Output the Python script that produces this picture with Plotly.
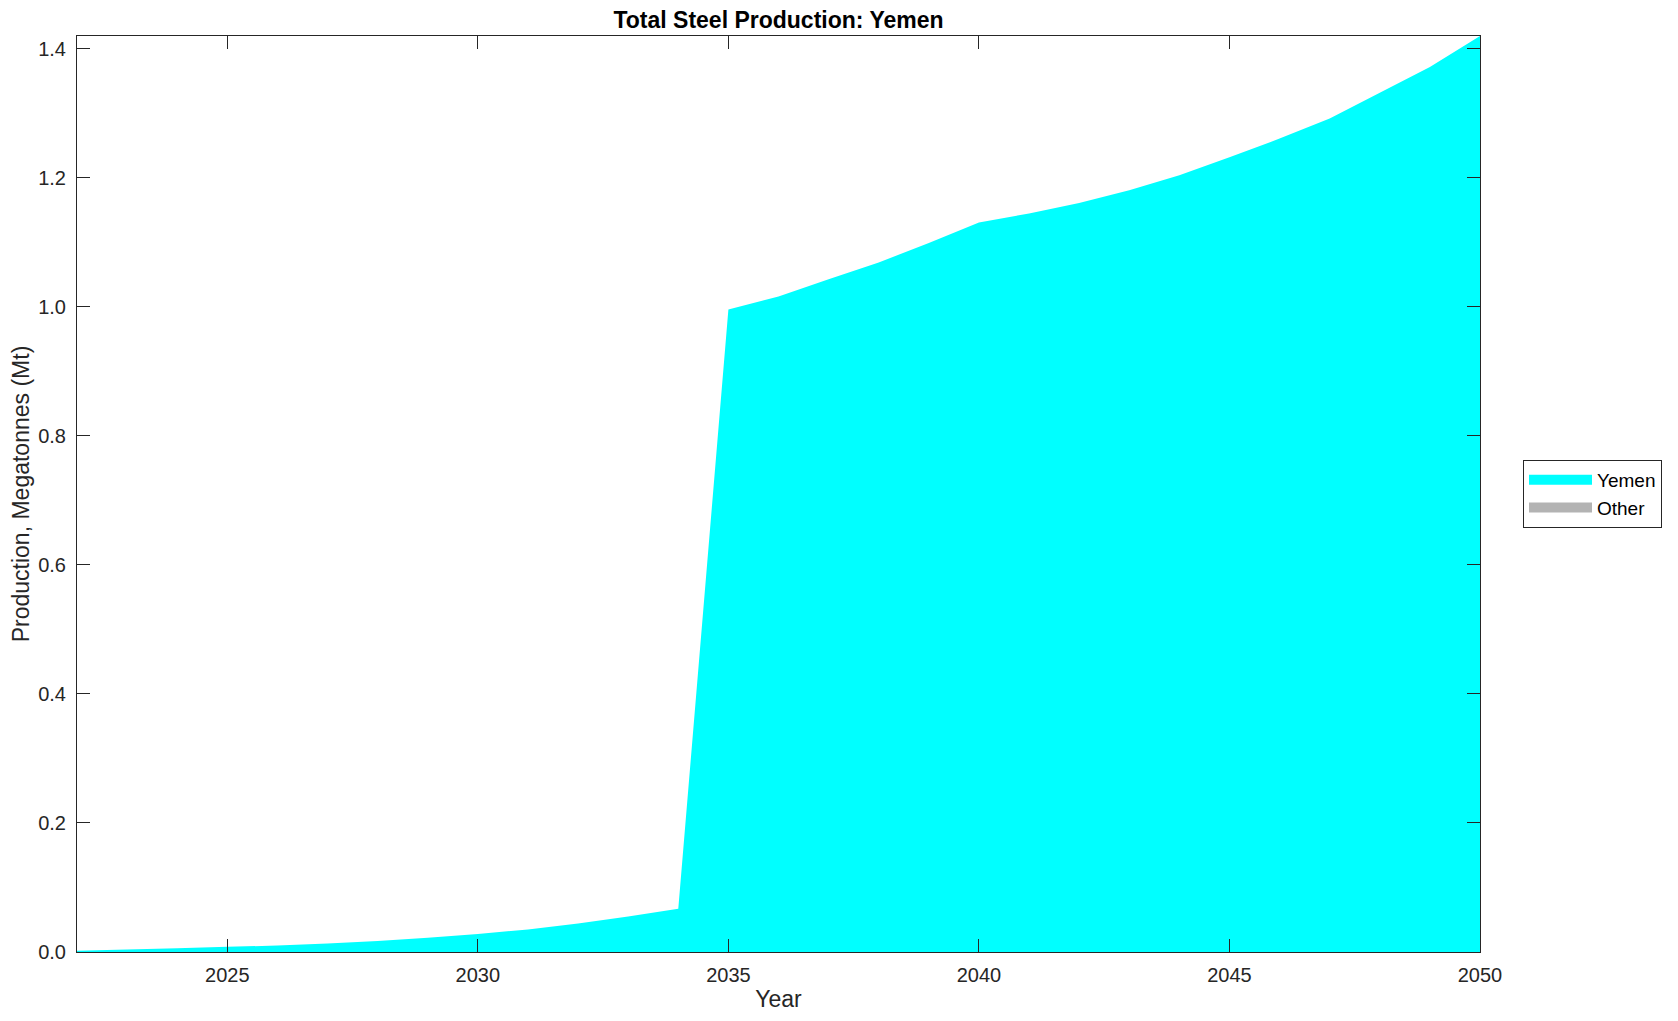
import plotly.graph_objects as go

years = list(range(2022, 2051))
yemen = [0.002, 0.004, 0.006, 0.008, 0.010, 0.013, 0.017, 0.022, 0.028, 0.035, 0.044, 0.055, 0.067,
         0.996, 1.016, 1.043, 1.069, 1.099, 1.131,
         1.145, 1.161, 1.181, 1.204, 1.232, 1.261, 1.292, 1.332, 1.372, 1.420]
other = [0.0] * len(years)

series_names = ["Yemen", "Other"]
series_colors = ["#00FFFF", "#B3B3B3"]

x_ticks = [2025, 2030, 2035, 2040, 2045, 2050]
y_ticks = [0.0, 0.2, 0.4, 0.6, 0.8, 1.0, 1.2, 1.4]

font_family = "Liberation Sans, Arial, Helvetica, sans-serif"
axis_color = "#262626"

fig = go.Figure()
for name, vals, col in zip(series_names, [yemen, other], series_colors):
    fig.add_trace(go.Scatter(x=years, y=vals, name=name, stackgroup="one", mode="none",
                             fillcolor=col, line=dict(width=0), showlegend=False,
                             legendgroup=name))
# legend swatches (wide filled rectangles as in the reference)
for name, col in zip(series_names, series_colors):
    fig.add_trace(go.Scatter(x=[None], y=[None], name=name, mode="lines",
                             line=dict(color=col, width=18), legendgroup=name,
                             hoverinfo="skip"))

L, R = 69, 206
fig.update_layout(
    width=1678, height=1021,
    margin=dict(l=L, r=R, t=28, b=77, autoexpand=False),
    paper_bgcolor="white", plot_bgcolor="white",
    font=dict(family=font_family, size=20, color=axis_color),
    title=dict(text="<b>Total Steel Production: Yemen</b>",
               x=(L + 1678 - R) / 2 / 1678, xanchor="center",
               y=1 - 12 / 1021, yanchor="middle", font=dict(size=23, color="black")),
    legend=dict(x=(1515 - L) / (1678 - R - L), y=0.5, xanchor="left", yanchor="middle",
                bordercolor=axis_color, borderwidth=1, bgcolor="white",
                font=dict(size=19, color="black"), itemwidth=63,
                traceorder="normal", tracegroupgap=0),
    showlegend=True,
)
fig.update_xaxes(range=[2022, 2050], tickvals=x_ticks, ticks="inside", ticklen=13,
                 tickcolor=axis_color, showline=True, linecolor=axis_color, linewidth=1,
                 mirror="ticks", showgrid=False, zeroline=False, ticklabelstandoff=5,
                 automargin=False,
                 title=dict(text="Year", font=dict(size=23), standoff=5))
fig.update_yaxes(range=[0, 1.42], tickvals=y_ticks, tickformat=".1f", ticks="inside", ticklen=13,
                 tickcolor=axis_color, showline=True, linecolor=axis_color, linewidth=1,
                 mirror="ticks", showgrid=False, zeroline=False, ticklabelstandoff=6,
                 automargin=False,
                 title=dict(text="Production, Megatonnes (Mt)", font=dict(size=23), standoff=7))

fig.write_html("out.html")
